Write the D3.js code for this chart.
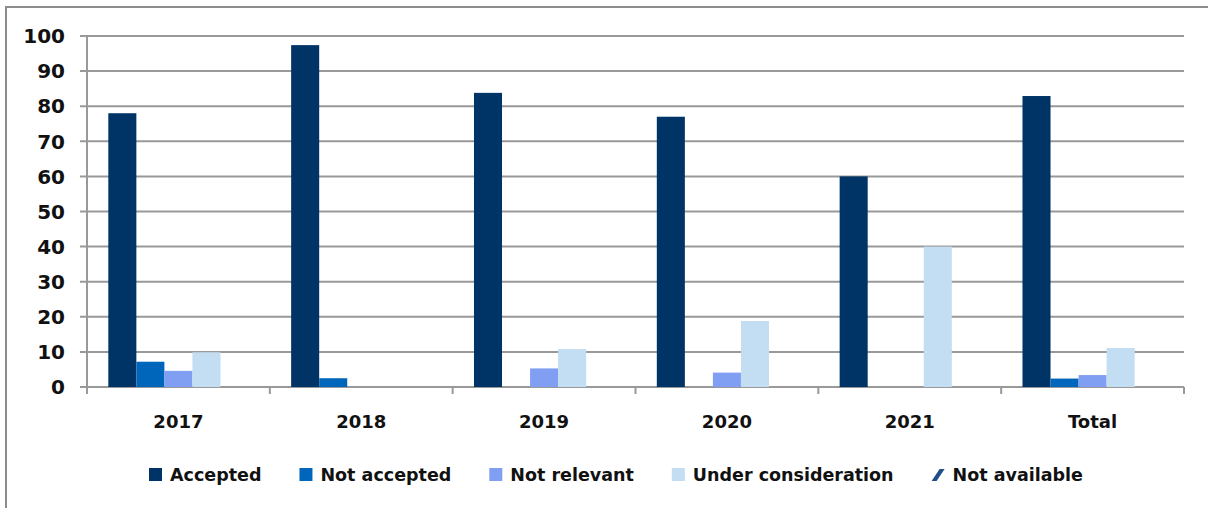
<!DOCTYPE html>
<html>
<head>
<meta charset="utf-8">
<script src="https://cdn.jsdelivr.net/npm/d3@7"></script>
<style>
  body { margin: 0; background: #fff; }
  text { font-family: "DejaVu Sans", sans-serif; font-weight: bold; fill: #111; }
</style>
</head>
<body>
<svg id="chart"></svg>
<script>
// Data
const categories = ["2017", "2018", "2019", "2020", "2021", "Total"];
const seriesNames = ["Accepted", "Not accepted", "Not relevant", "Under consideration", "Not available"];
const accepted = [78, 97.4, 83.8, 77, 60, 82.9];
const notAccepted = [7.2, 2.5, 0, 0, 0, 2.4];
const notRelevant = [4.6, 0, 5.3, 4.1, 0, 3.4];
const underConsideration = [9.9, 0, 10.8, 18.8, 40, 11.1];
const notAvailable = [0, 0, 0, 0, 0, 0];
const yTicks = [0, 10, 20, 30, 40, 50, 60, 70, 80, 90, 100];

const seriesValues = [accepted, notAccepted, notRelevant, underConsideration, notAvailable];
const colors = ["#003366", "#0066bb", "#809ff2", "#c3ddf2", "#003366"];

// Chart dimensions
const width = 1208, height = 508;
const margin = { top: 36, right: 24, bottom: 121, left: 87 };

const svg = d3.select("#chart")
    .attr("width", width)
    .attr("height", height);

// Hatch pattern for "Not available"
const defs = svg.append("defs");
defs.append("pattern")
    .attr("id", "hatch")
    .attr("patternUnits", "userSpaceOnUse")
    .attr("width", 6).attr("height", 6)
    .attr("patternTransform", "rotate(45)")
    .append("rect")
    .attr("width", 3).attr("height", 6)
    .attr("fill", "#003366");

// Outer frame (top and left edges only visible)
svg.append("path")
    .attr("d", `M6,${height} V7 H${width}`)
    .attr("fill", "none")
    .attr("stroke", "#8c8c8c")
    .attr("stroke-width", 2);

// Scales
const x0 = d3.scaleBand()
    .domain(categories)
    .range([margin.left, width - margin.right])
    .paddingInner(0)
    .paddingOuter(0);

const x1 = d3.scaleBand()
    .domain(seriesNames)
    .range([0, x0.bandwidth()])
    .paddingOuter(0.76)
    .paddingInner(0);

const y = d3.scaleLinear()
    .domain([0, 100])
    .range([height - margin.bottom, margin.top]);

// Gridlines
svg.append("g")
    .selectAll("line")
    .data(yTicks)
    .join("line")
    .attr("x1", margin.left - 7)
    .attr("x2", width - margin.right)
    .attr("y1", d => y(d))
    .attr("y2", d => y(d))
    .attr("stroke", "#999")
    .attr("stroke-width", 2);

// Y axis line
svg.append("line")
    .attr("x1", margin.left).attr("x2", margin.left)
    .attr("y1", y(100)).attr("y2", y(0))
    .attr("stroke", "#999")
    .attr("stroke-width", 2);

// Y tick labels
svg.append("g")
    .selectAll("text")
    .data(yTicks)
    .join("text")
    .attr("x", 65)
    .attr("y", d => y(d))
    .attr("dy", "0.36em")
    .attr("text-anchor", "end")
    .style("font-size", "20px")
    .text(d => d);

// X axis tick marks at category boundaries
const boundaries = categories.map(c => x0(c)).concat([x0(categories[categories.length - 1]) + x0.bandwidth()]);
svg.append("g")
    .selectAll("line")
    .data(boundaries)
    .join("line")
    .attr("x1", d => d).attr("x2", d => d)
    .attr("y1", y(0)).attr("y2", y(0) + 7)
    .attr("stroke", "#999")
    .attr("stroke-width", 2);

// Bars
const groups = svg.append("g")
    .selectAll("g")
    .data(categories)
    .join("g")
    .attr("transform", d => `translate(${x0(d)},0)`);

groups.selectAll("rect")
    .data((c, i) => seriesNames.map((s, j) => ({ series: s, idx: j, value: seriesValues[j][i] })))
    .join("rect")
    .filter(d => d.value > 0)
    .attr("x", d => x1(d.series))
    .attr("width", x1.bandwidth())
    .attr("y", d => y(d.value))
    .attr("height", d => y(0) - y(d.value))
    .attr("fill", d => d.idx === 4 ? "url(#hatch)" : colors[d.idx]);

// X labels
svg.append("g")
    .selectAll("text")
    .data(categories)
    .join("text")
    .attr("x", d => x0(d) + x0.bandwidth() / 2)
    .attr("y", 428)
    .attr("text-anchor", "middle")
    .style("font-size", "18px")
    .text(d => d);

// Legend
const legend = svg.append("g").attr("transform", "translate(149,468)");
let lx = 0;
seriesNames.forEach((name, i) => {
    const item = legend.append("g").attr("transform", `translate(${lx},0)`);
    if (i === 4) {
        item.append("path")
            .attr("d", "M0,13 L8,1 L13,1 L5,13 Z")
            .attr("fill", "#1f4f8a");
    } else {
        item.append("rect")
            .attr("width", 13).attr("height", 13)
            .attr("fill", colors[i]);
    }
    const t = item.append("text")
        .attr("x", 21)
        .attr("y", 13)
        .style("font-size", "17.5px")
        .text(name);
    lx += 21 + t.node().getComputedTextLength() + 38;
});
</script>
</body>
</html>
